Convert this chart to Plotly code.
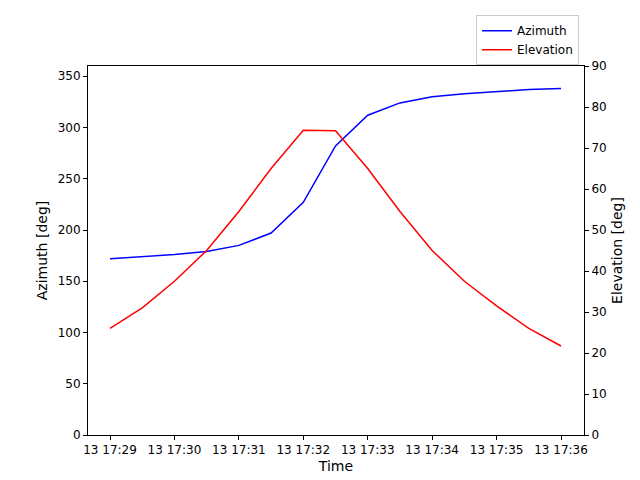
import plotly.graph_objects as go

seconds = [0, 30, 60, 90, 120, 150, 180, 210, 240, 270, 300, 330, 360, 390, 420]
azimuth = [172, 174, 176, 179, 185, 197, 227, 282, 312, 324, 330, 333, 335, 337, 338]
elevation = [26, 31, 37.5, 45, 54.5, 65, 74.3, 74.2, 65, 54.5, 45, 37.5, 31.5, 26, 21.7]
tick_secs = [0, 60, 120, 180, 240, 300, 360, 420]
tick_text = ["13 17:29", "13 17:30", "13 17:31", "13 17:32", "13 17:33", "13 17:34", "13 17:35", "13 17:36"]

fig = go.Figure()
fig.add_trace(go.Scatter(x=seconds, y=azimuth, mode="lines", name="Azimuth",
                         line=dict(color="blue", width=1.5)))
fig.add_trace(go.Scatter(x=seconds, y=elevation, mode="lines", name="Elevation",
                         line=dict(color="red", width=1.5), yaxis="y2"))

axstyle = dict(showline=True, linecolor="black", linewidth=1, ticks="outside",
               ticklen=4, tickcolor="black", showgrid=False, zeroline=False, automargin=False)
fig.update_layout(
    width=640, height=480, plot_bgcolor="white", paper_bgcolor="white",
    font=dict(family="DejaVu Sans", size=12, color="black"),
    margin=dict(l=80, r=64, t=58, b=53, autoexpand=False),
    xaxis=dict(range=[-20.5, 441.4], tickvals=tick_secs, ticktext=tick_text,
               title=dict(text="Time", standoff=4), mirror=True, **axstyle),
    yaxis=dict(range=[0, 360], dtick=50, title=dict(text="Azimuth [deg]", standoff=6), **axstyle),
    yaxis2=dict(range=[0, 90], dtick=10, overlaying="y", side="right",
                title=dict(text="Elevation [deg]", standoff=6), **axstyle),
    legend=dict(x=0.99, y=0.985, xref="paper", yref="container", xanchor="right", yanchor="top",
                bordercolor="#cccccc", borderwidth=1, bgcolor="white",
                font=dict(size=12), tracegroupgap=0),
)
fig.write_html("out.html")
